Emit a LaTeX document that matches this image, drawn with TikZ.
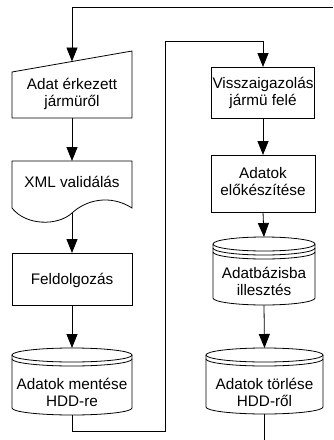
\documentclass[tikz,border=0pt]{standalone}
\usepackage{fontspec}
\setmainfont{Liberation Sans}
\usetikzlibrary{arrows.meta}

\begin{document}
\begin{tikzpicture}[x=1pt,y=-1pt,
  shape line/.style={line width=0.8pt},
  flow/.style={line width=0.8pt,-{Triangle[length=14pt,width=11pt]}},
  plain flow/.style={line width=0.8pt},
  label text/.style={align=center,font=\fontsize{15.3pt}{17pt}\selectfont}]

\useasboundingbox (0,0) rectangle (333,440);

% Left column
% Manual input
\draw[shape line] (12,72) -- (132,51) -- (132,118) -- (12,118) -- cycle;
\node[label text] (erkezett) at (72,94) {Adat érkezett\\jármüről};
\coordinate (erkezettTop) at (72,61.5);
\coordinate (erkezettBot) at (72,118);

% Document shape
\draw[shape line] (12,161) -- (132,161) -- (132,208)
   .. controls (110,194) and (86,200) .. (72,213)
   .. controls (58,226) and (26,226) .. (12,208) -- cycle;
\node[label text] (xml) at (72,182) {XML validálás};
\coordinate (xmlTop) at (72,161);
\coordinate (xmlBot) at (72,213);

% Process box
\draw[shape line] (12,253) rectangle (132,305);
\node[label text] (feldolg) at (72,280) {Feldolgozás};
\coordinate (feldolgTop) at (72,253);
\coordinate (feldolgBot) at (72,305);

% Storage cylinder
\draw[shape line] (72,355) ellipse [x radius=60pt, y radius=7pt];
\draw[shape line] (12,359) arc (180:360:60pt and 7pt);
\draw[shape line] (12,355) -- (12,408) arc (180:360:60pt and 7pt) -- (132,355);
\node[label text] (mentes) at (72,392) {Adatok mentése\\HDD-re};
\coordinate (mentesTop) at (72,348);
\coordinate (mentesBot) at (72,415);

% Right column
\draw[shape line] (211,67) rectangle (314,118);
\node[label text] (visszaig) at (263,93) {Visszaigazolás\\jármü felé};
\coordinate (visszaigTop) at (263,67);
\coordinate (visszaigBot) at (263,118);

\draw[shape line] (211,155) rectangle (315,212);
\node[label text] (elokesz) at (263,182) {Adatok\\előkészítése};
\coordinate (elokeszTop) at (263,155);
\coordinate (elokeszBot) at (263,212);

% Cylinder with two rims
\draw[shape line] (264,244) ellipse [x radius=51pt, y radius=7pt];
\draw[shape line] (213,248) arc (180:360:51pt and 7pt);
\draw[shape line] (213,252) arc (180:360:51pt and 7pt);
\draw[shape line] (213,244) -- (213,298) arc (180:360:51pt and 7pt) -- (315,244);
\node[label text] (illeszt) at (264,281) {Adatbázisba\\illesztés};
\coordinate (illesztTop) at (264,237);
\coordinate (illesztBot) at (264,305);

\draw[shape line] (264.5,355) ellipse [x radius=58.5pt, y radius=7pt];
\draw[shape line] (206,359) arc (180:360:58.5pt and 7pt);
\draw[shape line] (206,355) -- (206,407) arc (180:360:58.5pt and 7pt) -- (323,355);
\node[label text] (torles) at (264.5,392) {Adatok törlése\\HDD-ről};
\coordinate (torlesTop) at (264.5,348);
\coordinate (torlesBot) at (264.5,414);

% Connectors
\coordinate (inEnd) at (333,7);
\coordinate (inCorner) at (72,7);
\coordinate (loopA) at (72,431);
\coordinate (loopB) at (165,431);
\coordinate (loopC) at (165,41);
\coordinate (loopD) at (263,41);
\coordinate (outEnd) at (264.5,440);

\draw[flow] (inEnd) -- (inCorner) -- (erkezettTop);
\draw[flow] (erkezettBot) -- (xmlTop);
\draw[flow] (xmlBot) -- (feldolgTop);
\draw[flow] (feldolgBot) -- (mentesTop);
\draw[flow] (mentesBot) -- (loopA) -- (loopB) -- (loopC) -- (loopD) -- (visszaigTop);
\draw[flow] (visszaigBot) -- (elokeszTop);
\draw[flow] (elokeszBot) -- (illesztTop);
\draw[flow] (illesztBot) -- (torlesTop);
\draw[plain flow] (torlesBot) -- (outEnd);

\end{tikzpicture}
\end{document}
